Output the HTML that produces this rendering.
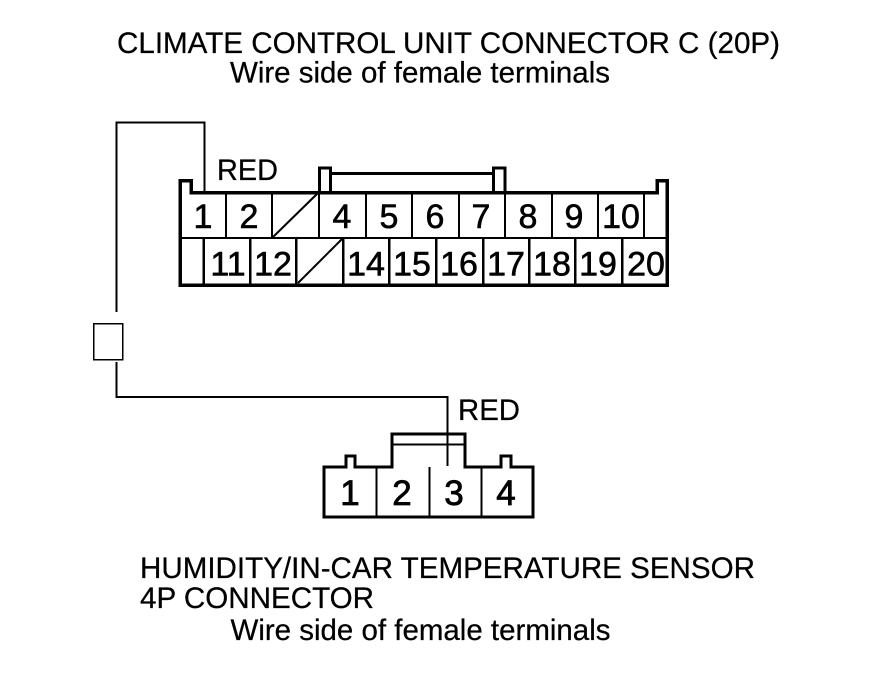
<!DOCTYPE html>
<html><head><meta charset="utf-8"><style>
html,body{margin:0;padding:0;background:#fff}
svg{display:block}
text{font-family:"Liberation Sans",sans-serif;fill:#000;stroke:#000;stroke-width:.25px}
.t{font-size:29.5px}
.n{font-size:34px;text-anchor:middle;stroke-width:.6px}
.m{font-size:35px;text-anchor:middle;stroke-width:.8px}
</style></head><body>
<svg width="880" height="684" viewBox="0 0 880 684" xmlns="http://www.w3.org/2000/svg">
<g fill="none" stroke="#000" shape-rendering="crispEdges">
<!-- wires -->
<path d="M116.500 312V122.500H204.500V192" stroke-width="2"/>
<path d="M116.500 362V397H447.500V466" stroke-width="2"/>
<rect x="93.500" y="323.500" width="29" height="36" stroke-width="1.500"/>
<!-- 20P connector -->
<path d="M180 285V180.500H191V192.500H657V180.500H667V285Z" stroke-width="3.500"/>
<path d="M180 238H667" stroke-width="2"/>
<path d="M226 192V238M272 192V238M319 192V238M366 192V238M412 192V238M459 192V238M505 192V238M552 192V238M598 192V238M644 192V238" stroke-width="2"/>
<path d="M203.500 238V284M250 238V284M296 238V284M343 238V284M389 238V284M436 238V284M483 238V284M529 238V284M575 238V284M622 238V284" stroke-width="2.500"/>
<!-- latch -->
<path d="M319.500 192V168H330.500V192" stroke-width="3"/>
<path d="M331 173.500H493" stroke-width="3"/>
<path d="M493.500 192V168H505V192" stroke-width="3"/>
<!-- 4P connector -->
<path d="M324 517V467H346V456H355V467H392V434H465V467H501V456H511V467H533V517Z" stroke-width="3"/>
<path d="M392 444.500H465" stroke-width="2"/>
<path d="M376.500 467V517M429.500 467V517M481.500 467V517" stroke-width="2"/>
</g>
<g fill="none" stroke="#000">
<path d="M273 237L319 192" stroke-width="2"/>
<path d="M298 283L342 239" stroke-width="2"/>
</g>
<text class="t" x="117" y="53" textLength="663" lengthAdjust="spacingAndGlyphs">CLIMATE CONTROL UNIT CONNECTOR C (20P)</text>
<text class="t" x="230" y="82.500" textLength="380" lengthAdjust="spacingAndGlyphs">Wire side of female terminals</text>
<text class="t" x="217" y="180" textLength="61" lengthAdjust="spacingAndGlyphs">RED</text>
<text class="t" x="458" y="420" textLength="62" lengthAdjust="spacingAndGlyphs">RED</text>
<text class="t" x="140" y="578" textLength="615" lengthAdjust="spacingAndGlyphs">HUMIDITY/IN-CAR TEMPERATURE SENSOR</text>
<text class="t" x="140" y="608" textLength="234" lengthAdjust="spacingAndGlyphs">4P CONNECTOR</text>
<text class="t" x="230.500" y="640" textLength="380" lengthAdjust="spacingAndGlyphs">Wire side of female terminals</text>
<g>
<text class="n" x="203" y="228">1</text><text class="n" x="249" y="228">2</text><text class="n" x="342" y="228">4</text><text class="n" x="389" y="228">5</text><text class="n" x="435" y="228">6</text><text class="n" x="481" y="228">7</text><text class="n" x="528" y="228">8</text><text class="n" x="574" y="228">9</text><text class="n" x="621" y="228">10</text>
<text class="n" x="228" y="275.500">11</text><text class="n" x="273" y="275.500">12</text><text class="n" x="366" y="275.500">14</text><text class="n" x="412" y="275.500">15</text><text class="n" x="459" y="275.500">16</text><text class="n" x="506" y="275.500">17</text><text class="n" x="552" y="275.500">18</text><text class="n" x="598" y="275.500">19</text><text class="n" x="646" y="275.500">20</text>
</g>
<text class="m" x="350" y="505">1</text><text class="m" x="402" y="505">2</text><text class="m" x="454" y="505">3</text><text class="m" x="506" y="505">4</text>
</svg>
</body></html>
